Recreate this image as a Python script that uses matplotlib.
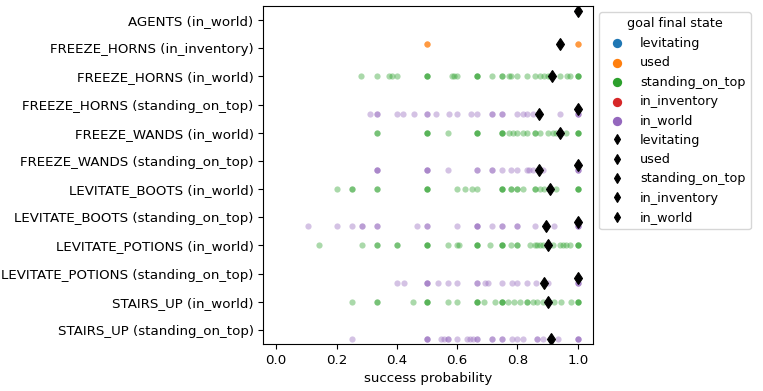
"""Success probability per task, coloured by goal final state, with black mean markers."""

import matplotlib
matplotlib.use("Agg")
import matplotlib.pyplot as plt

plt.rcParams["font.size"] = 9.2
plt.rcParams["ytick.labelsize"] = 9.6
plt.rcParams["xtick.labelsize"] = 9.6
plt.rcParams["axes.labelsize"] = 9.6

# row labels, top to bottom
rows = [
    "AGENTS (in_world)",
    "FREEZE_HORNS (in_inventory)",
    "FREEZE_HORNS (in_world)",
    "FREEZE_HORNS (standing_on_top)",
    "FREEZE_WANDS (in_world)",
    "FREEZE_WANDS (standing_on_top)",
    "LEVITATE_BOOTS (in_world)",
    "LEVITATE_BOOTS (standing_on_top)",
    "LEVITATE_POTIONS (in_world)",
    "LEVITATE_POTIONS (standing_on_top)",
    "STAIRS_UP (in_world)",
    "STAIRS_UP (standing_on_top)",
]
hues = ["levitating", "used", "standing_on_top", "in_inventory", "in_world"]
colors = ["#1f77b4", "#ff7f0e", "#2ca02c", "#d62728", "#9467bd"]

# per-run success probabilities
agents_lev = [1.0, 1.0]
fh_inv_used = [0.5, 0.5, 0.5, 1.0, 1.0, 1.0]
fh_world_sot = [0.28, 1/3, 0.375, 0.385, 0.4, 0.5, 0.5, 0.5, 0.583, 0.59, 0.6,
                2/3, 2/3, 2/3, 0.714, 0.75, 0.75, 0.773, 0.778, 0.8, 0.833, 0.857,
                0.875, 0.889, 0.9, 0.909, 0.94, 0.963, 0.974, 1.0, 1.0, 1.0]
fh_sot_world = [0.31, 1/3, 1/3, 0.4, 0.42, 0.458, 0.5, 0.5, 0.529, 0.573, 0.6,
                0.647, 2/3, 0.714, 0.714, 0.75, 0.75, 0.8, 0.818, 0.833, 0.852,
                0.94, 1.0, 1.0, 1.0]
fh_sot_inv = [1.0]
fw_world_sot = [1/3, 1/3, 0.5, 0.5, 0.5, 0.571, 2/3, 2/3, 2/3, 0.75, 0.75, 0.75,
                0.773, 0.786, 0.8, 0.818, 0.833, 0.857, 0.857, 0.875, 0.9, 0.917,
                0.929, 0.96, 1.0, 1.0, 1.0]
fw_sot_world = [1/3, 1/3, 1/3, 0.5, 0.5, 0.5, 0.571, 2/3, 2/3, 0.714, 0.714, 0.75,
                0.778, 0.8, 0.83, 0.839, 0.852, 0.885, 1.0, 1.0, 1.0]
fw_sot_inv = [1.0]
lb_world_sot = [0.2, 0.25, 0.25, 1/3, 1/3, 0.5, 0.5, 0.5, 0.6, 0.625, 0.65, 2/3,
                0.75, 0.75, 0.75, 0.778, 0.778, 0.8, 0.8, 0.818, 0.857, 0.857,
                0.875, 0.889, 0.929, 1.0, 1.0, 1.0]
lb_sot_world = [0.105, 0.2, 0.25, 0.286, 0.286, 1/3, 1/3, 0.467, 0.5, 0.5, 0.6,
                2/3, 2/3, 2/3, 0.714, 0.75, 0.75, 0.8, 0.8, 0.857, 0.92,
                1.0, 1.0, 1.0]
lb_sot_inv = [1.0]
lp_world_sot = [0.143, 0.286, 1/3, 1/3, 0.4, 0.4, 0.5, 0.5, 0.5, 0.571, 0.6, 0.606,
                2/3, 2/3, 2/3, 0.708, 0.75, 0.75, 0.75, 0.778, 0.8, 0.8, 0.842,
                0.857, 0.864, 0.875, 0.885, 0.917, 0.941, 0.95, 0.962, 0.974,
                1.0, 1.0, 1.0]
lp_sot_world = [0.4, 0.424, 0.5, 0.5, 0.5, 0.538, 0.571, 0.6, 2/3, 2/3, 0.692,
                0.703, 0.75, 0.782, 0.8, 0.833, 0.863, 0.9, 1.0, 1.0, 1.0]
lp_sot_inv = [1.0]
su_world_sot = [0.25, 1/3, 1/3, 0.455, 0.5, 0.5, 0.5, 0.571, 0.6, 2/3, 2/3, 2/3,
                0.688, 0.725, 0.75, 0.75, 0.75, 0.769, 0.79, 0.808, 0.833, 0.833,
                0.85, 0.864, 0.885, 0.92, 0.946, 0.979, 1.0, 1.0, 1.0]
su_sot_world = [0.25, 0.5, 0.5, 0.5, 0.545, 0.556, 0.571, 0.571, 0.6, 0.632, 0.643,
                0.654, 2/3, 2/3, 0.714, 0.714, 0.75, 0.75, 0.783, 0.8, 0.818,
                0.864, 0.864, 0.886, 0.933, 1.0, 1.0, 1.0]

# (row, hue, values)
groups = [
    (0, "levitating", agents_lev),
    (1, "used", fh_inv_used),
    (2, "standing_on_top", fh_world_sot),
    (3, "in_world", fh_sot_world),
    (3, "in_inventory", fh_sot_inv),
    (4, "standing_on_top", fw_world_sot),
    (5, "in_world", fw_sot_world),
    (5, "in_inventory", fw_sot_inv),
    (6, "standing_on_top", lb_world_sot),
    (7, "in_world", lb_sot_world),
    (7, "in_inventory", lb_sot_inv),
    (8, "standing_on_top", lp_world_sot),
    (9, "in_world", lp_sot_world),
    (9, "in_inventory", lp_sot_inv),
    (10, "standing_on_top", su_world_sot),
    (11, "in_world", su_sot_world),
]

# group means shown as black diamonds, same order as groups
means = [1.0, 0.94, 0.915, 0.87, 1.0, 0.94, 0.872, 1.0, 0.907, 0.896, 1.0,
         0.902, 0.888, 1.0, 0.9, 0.91]

fig = plt.figure(figsize=(7.63, 3.91), dpi=100)
ax = fig.add_axes([0.345, 0.12, 0.432, 0.865])

width = 0.8 / len(hues)
offsets = {h: -0.4 + width / 2 + i * width for i, h in enumerate(hues)}

for h, c in zip(hues, colors):
    xs, ys = [], []
    for r, gh, vals in groups:
        if gh == h:
            xs += vals
            ys += [r + offsets[h]] * len(vals)
    ax.scatter(xs, ys, s=20, color=c, alpha=0.4, linewidths=0, label=h, zorder=2)

for h in hues:
    xs, ys = [], []
    for (r, gh, vals), m in zip(groups, means):
        if gh == h:
            xs.append(m)
            ys.append(r + offsets[h])
    ax.plot(xs, ys, linestyle="none", marker="d", color="black", markersize=6.5,
            markeredgewidth=0.8, label=h, zorder=3)

ax.set_yticks(range(len(rows)))
ax.set_yticklabels(rows)
ax.set_ylim(len(rows) - 0.5, -0.5)
ax.set_xlim(-0.043, 1.05)
ax.set_xticks([0.0, 0.2, 0.4, 0.6, 0.8, 1.0])
ax.set_xlabel("success probability")

leg = ax.legend(title="goal final state", loc="upper left", bbox_to_anchor=(1, 1))
for hnd in leg.legend_handles:
    hnd.set_alpha(1)
for hnd in leg.legend_handles[:len(hues)]:
    hnd.set_sizes([45])
for hnd in leg.legend_handles[len(hues):]:
    hnd.set_markersize(5.5)

fig.savefig("out.png", dpi=100)
